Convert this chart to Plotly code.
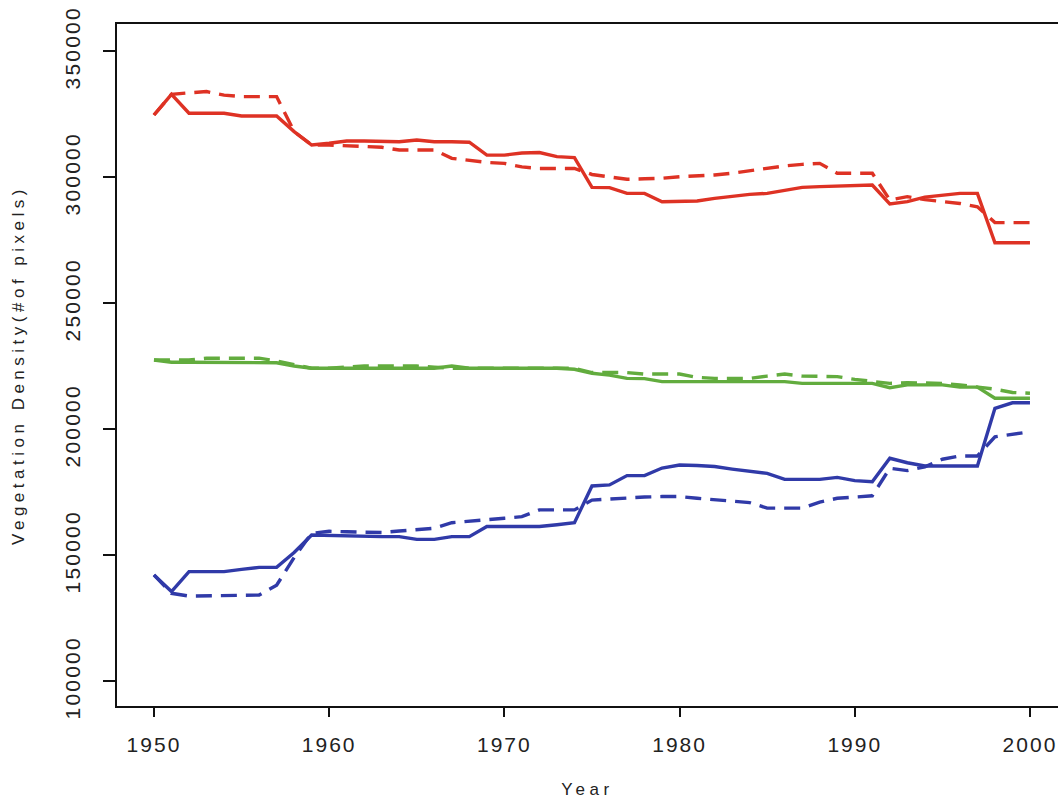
import plotly.graph_objects as go

years = list(range(1950, 2001))

red_solid = [
    324600, 332800, 325300, 325300, 325300, 324200, 324200, 324200, 318000, 312700,
    313400, 314300, 314300, 314300, 314000, 314700, 314000, 314000, 313800, 308700,
    308700, 309500, 309700, 308100, 307700, 295900, 295800, 293500, 293500, 290200,
    290200, 290500, 291500, 292300, 293100, 293500, 294800, 295900, 296200, 296400,
    296400, 296800, 289300, 290200, 292000, 292900, 293500, 293500, 273900, 273900,
    273900,
]
red_dashed = [
    324600, 332800, 333400, 333900, 332500, 331900, 331900, 331900, 318000, 312700,
    312700, 312300, 312000, 311800, 310700, 310700, 310700, 307400, 306500, 305800,
    305400, 304000, 303400, 303400, 303400, 301000, 300100, 299100, 299300, 299500,
    300100, 300300, 300800, 301500, 302500, 303300, 304400, 305000, 305400, 301500,
    301500, 301500, 290900, 292200, 291000, 290200, 289500, 288200, 281900, 281900,
    281900,
]
green_solid = [
    227400, 226500, 226500, 226500, 226500, 226500, 226500, 226300, 225000, 224100,
    224100, 224100, 224100, 224100, 224100, 224100, 224100, 225000, 224100, 224100,
    224100, 224100, 224100, 224100, 223700, 222100, 221400, 220100, 220000, 218800,
    218800, 218800, 218800, 218800, 218800, 218800, 218800, 218100, 218100, 218100,
    218100, 218100, 216400, 217500, 217500, 217500, 216600, 216600, 212200, 212200,
    212200,
]
green_dashed = [
    227400, 227400, 227400, 228100, 228100, 228100, 228100, 227000, 225500, 224100,
    224100, 224500, 225000, 225000, 225000, 225000, 224500, 224100, 224100, 224100,
    224100, 224100, 224100, 224100, 224100, 222400, 222400, 222400, 221800, 221800,
    221800, 220500, 220100, 220100, 220100, 221000, 221800, 221000, 220800, 220800,
    219700, 219000, 218100, 218400, 218200, 218100, 217500, 216600, 215800, 214500,
    214200,
]
blue_solid = [
    142100, 135500, 143400, 143400, 143400, 144300, 145100, 145100, 151000, 157900,
    157700, 157500, 157400, 157300, 157300, 156200, 156200, 157300, 157300, 161300,
    161300, 161300, 161300, 162000, 162800, 177400, 177800, 181500, 181500, 184500,
    185700, 185500, 185100, 184100, 183100, 182400, 180000, 180000, 180000, 180800,
    179500, 179100, 188400, 186600, 185300, 185300, 185300, 185300, 208200, 210400,
    210400,
]
blue_dashed = [
    142100, 134800, 133700, 133800, 133900, 134000, 134100, 138000, 149000, 158600,
    159400, 159200, 159100, 158900, 159500, 160200, 160600, 162800, 163300, 163900,
    164600, 165200, 167900, 167900, 167900, 171800, 172300, 172700, 173000, 173200,
    173200, 172500, 172000, 171600, 170800, 168600, 168600, 168600, 171000, 172500,
    173000, 173500, 184400, 183500, 185000, 188000, 189300, 189300, 196900, 198000,
    198900,
]

x_ticks = [1950, 1960, 1970, 1980, 1990, 2000]
y_ticks = [100000, 150000, 200000, 250000, 300000, 350000]

RED = "rgb(222,50,36)"
GREEN = "rgb(98,172,62)"
BLUE = "rgb(48,58,168)"
DASH = "16px,9px"

series = [
    (red_solid, RED, "solid"),
    (red_dashed, RED, DASH),
    (green_solid, GREEN, "solid"),
    (green_dashed, GREEN, DASH),
    (blue_solid, BLUE, "solid"),
    (blue_dashed, BLUE, DASH),
]


def spaced(text, px):
    """Wrap a label so it is drawn with extra letter spacing."""
    return f'<span style="letter-spacing:{px}px">{text}</span>'


fig = go.Figure()
for values, color, dash in series:
    fig.add_trace(go.Scatter(
        x=years, y=values, mode="lines",
        line=dict(color=color, width=3.4, dash=dash),
        showlegend=False,
    ))

font_family = "Liberation Sans, Arial, sans-serif"

fig.update_layout(
    width=1058, height=800,
    margin=dict(l=117, r=0, t=24, b=94),
    paper_bgcolor="white", plot_bgcolor="white",
    font=dict(family=font_family, color="#222222"),
    xaxis=dict(
        range=[1947.89, 2001.6],
        tickvals=x_ticks,
        ticktext=[spaced(t, 2) for t in x_ticks],
        ticks="outside", ticklen=9, tickwidth=1.5, tickcolor="#111111",
        showline=True, linecolor="#111111", linewidth=2, mirror=True,
        showgrid=False, zeroline=False,
        tickfont=dict(size=21, color="#222222"),
        ticklabelstandoff=10,
        title=dict(text=spaced("Year", 4.5), font=dict(size=17, color="#222222"),
                   standoff=28),
    ),
    yaxis=dict(
        range=[90079, 360714],
        tickvals=y_ticks,
        ticktext=[spaced(t, 2.2) for t in y_ticks],
        tickangle=-90,
        ticks="outside", ticklen=12, tickwidth=1.5, tickcolor="#111111",
        showline=True, linecolor="#111111", linewidth=2, mirror=False,
        showgrid=False, zeroline=False,
        tickfont=dict(size=21, color="#222222"),
        ticklabelstandoff=15,
        title=dict(text=spaced("Vegetation Density(#of pixels)", 4.5),
                   font=dict(size=17, color="#222222"), standoff=32),
    ),
)

fig.write_html("out.html")
